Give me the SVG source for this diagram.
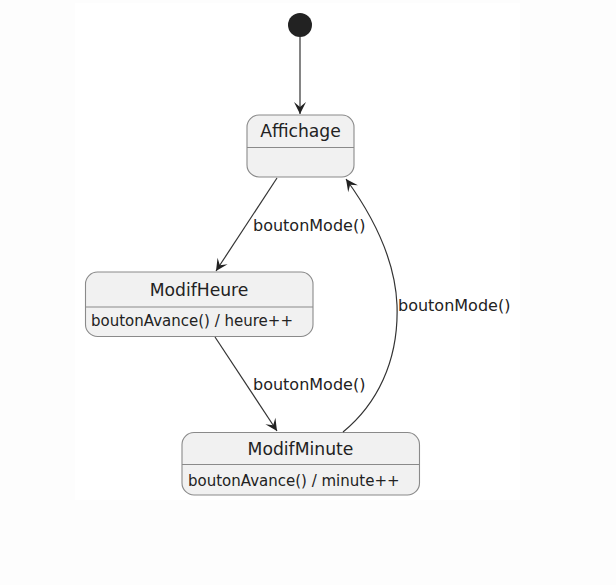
<svg xmlns="http://www.w3.org/2000/svg" width="616" height="585" viewBox="0 0 616 585">
<defs>
<style>
.box{fill:#F1F1F1;stroke:#8a8a8a;stroke-width:1.1}
.div{stroke:#8a8a8a;stroke-width:1.1}
.title{font-family:"DejaVu Sans",sans-serif;font-size:17.2px;fill:#222;text-anchor:middle}
.body{font-family:"DejaVu Sans",sans-serif;font-size:15px;fill:#222}
.lbl{font-family:"DejaVu Sans",sans-serif;font-size:16px;fill:#222}
.edge{fill:none;stroke:#333;stroke-width:1.2}
</style>
<marker id="arr" markerUnits="userSpaceOnUse" viewBox="-13 -7 14 14" refX="0" refY="0" markerWidth="14" markerHeight="14" orient="auto">
<path d="M0,0 L-12,-6 L-7,0 L-12,6 Z" fill="#222"/>
</marker>
</defs>
<rect width="616" height="585" fill="#fdfdfd"/>
<rect x="75" y="3" width="445" height="497" fill="#ffffff"/>
<g id="start">
<circle cx="300" cy="25" r="12" fill="#222"/>
</g>
<g id="Affichage">
<rect class="box" x="247" y="115" width="107" height="62" rx="12"/>
<line class="div" x1="247" y1="147.5" x2="354" y2="147.5"/>
<text class="title" x="300.5" y="137">Affichage</text>
</g>
<g id="ModifHeure">
<rect class="box" x="85.5" y="272" width="227.5" height="64.5" rx="12"/>
<line class="div" x1="85.5" y1="307" x2="313" y2="307"/>
<text class="title" x="199" y="296">ModifHeure</text>
<text class="body" x="91" y="326">boutonAvance() / heure++</text>
</g>
<g id="ModifMinute">
<rect class="box" x="182" y="432.5" width="237.5" height="62.5" rx="12"/>
<line class="div" x1="182" y1="464.5" x2="419.5" y2="464.5"/>
<text class="title" x="300.5" y="455">ModifMinute</text>
<text class="body" x="188" y="486">boutonAvance() / minute++</text>
</g>
<g id="connectors">
<path class="edge" d="M300,37 L300,114" marker-end="url(#arr)"/>
<path class="edge" d="M277,178 L216,271" marker-end="url(#arr)"/>
<path class="edge" d="M215,337 L277,431" marker-end="url(#arr)"/>
<path class="edge" d="M343,432 C376,405 399,362 397,305 C395,255 370,212 346,179" marker-end="url(#arr)"/>
<text class="lbl" x="253" y="231">boutonMode()</text>
<text class="lbl" x="253" y="390">boutonMode()</text>
<text class="lbl" x="398" y="311">boutonMode()</text>
</g>
</svg>
